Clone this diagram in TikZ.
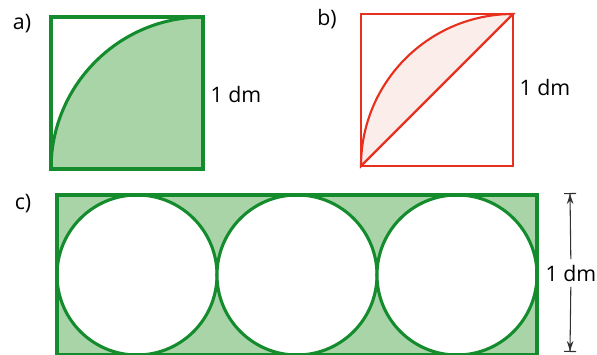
\documentclass[tikz,border=0pt]{standalone}
\usepackage{fontspec}
\setmainfont{Open Sans}
\usepackage{xcolor}
\usepackage{tikz}
\usetikzlibrary{
  positioning,
  arrows.meta
}
\definecolor{figgreen}{RGB}{20,140,45}
\definecolor{figfill}{RGB}{168,212,168}
\definecolor{figred}{RGB}{232,48,30}
\definecolor{figpink}{RGB}{251,237,234}
\definecolor{dimgray}{RGB}{50,50,50}

\begin{document}
\begin{tikzpicture}[
    x=0.75pt, y=0.75pt,
    >={Stealth[length=7.5pt, width=5pt]},
    lbl/.style={font=\fontsize{16}{18}\selectfont, inner sep=1pt},
    gline/.style={line width=2.3pt, figgreen},
    rline/.style={line width=1.6pt, figred}
]
    \useasboundingbox (0,0) rectangle (597,354);

    % 图 a：正方形与四分之一圆
    \def\s{152}
    \fill[figfill] (51,185) arc[start angle=180, end angle=90, radius=\s] -- (51+\s,185) -- cycle;
    \draw[gline] (51,185) arc[start angle=180, end angle=90, radius=\s];
    \draw[gline] (51,185) rectangle (51+\s,185+\s);
    \node[lbl] (taga) at (22,330) {a)};
    \node[lbl] (dma) at (236,259) {1 dm};

    % 图 b：弓形
    \fill[figpink] (361,188) arc[start angle=180, end angle=90, radius=\s] -- cycle;
    \draw[rline] (361,188) arc[start angle=180, end angle=90, radius=\s] -- cycle;
    \draw[rline] (361,188) rectangle (361+\s,188+\s);
    \node[lbl] (tagb) at (327,335) {b)};
    \node[lbl] (dmb) at (545,266) {1 dm};

    % 图 c：长方形与三个圆
    \def\r{80}
    \fill[figfill] (57,-1) rectangle (537,159);
    \foreach \cx in {137,297,457} {
        \filldraw[gline, fill=white] (\cx,79) circle (\r);
    }
    \draw[gline] (57,-1) rectangle (537,159);
    \node[lbl] (tagc) at (23,150) {c)};

    % 尺寸线
    \coordinate (dimtop) at (570,161);
    \coordinate (dimbot) at (570,2);
    \node[lbl, inner sep=4pt] (dmc) at (571,81) {1 dm};
    \draw[dimgray, line width=0.8pt, -{Stealth[length=7.5pt, width=5pt] Bar[width=9pt]}] (dmc) -- (dimtop);
    \draw[dimgray, line width=0.8pt, -{Stealth[length=7.5pt, width=5pt] Bar[width=9pt]}] (dmc) -- (dimbot);
\end{tikzpicture}
\end{document}
